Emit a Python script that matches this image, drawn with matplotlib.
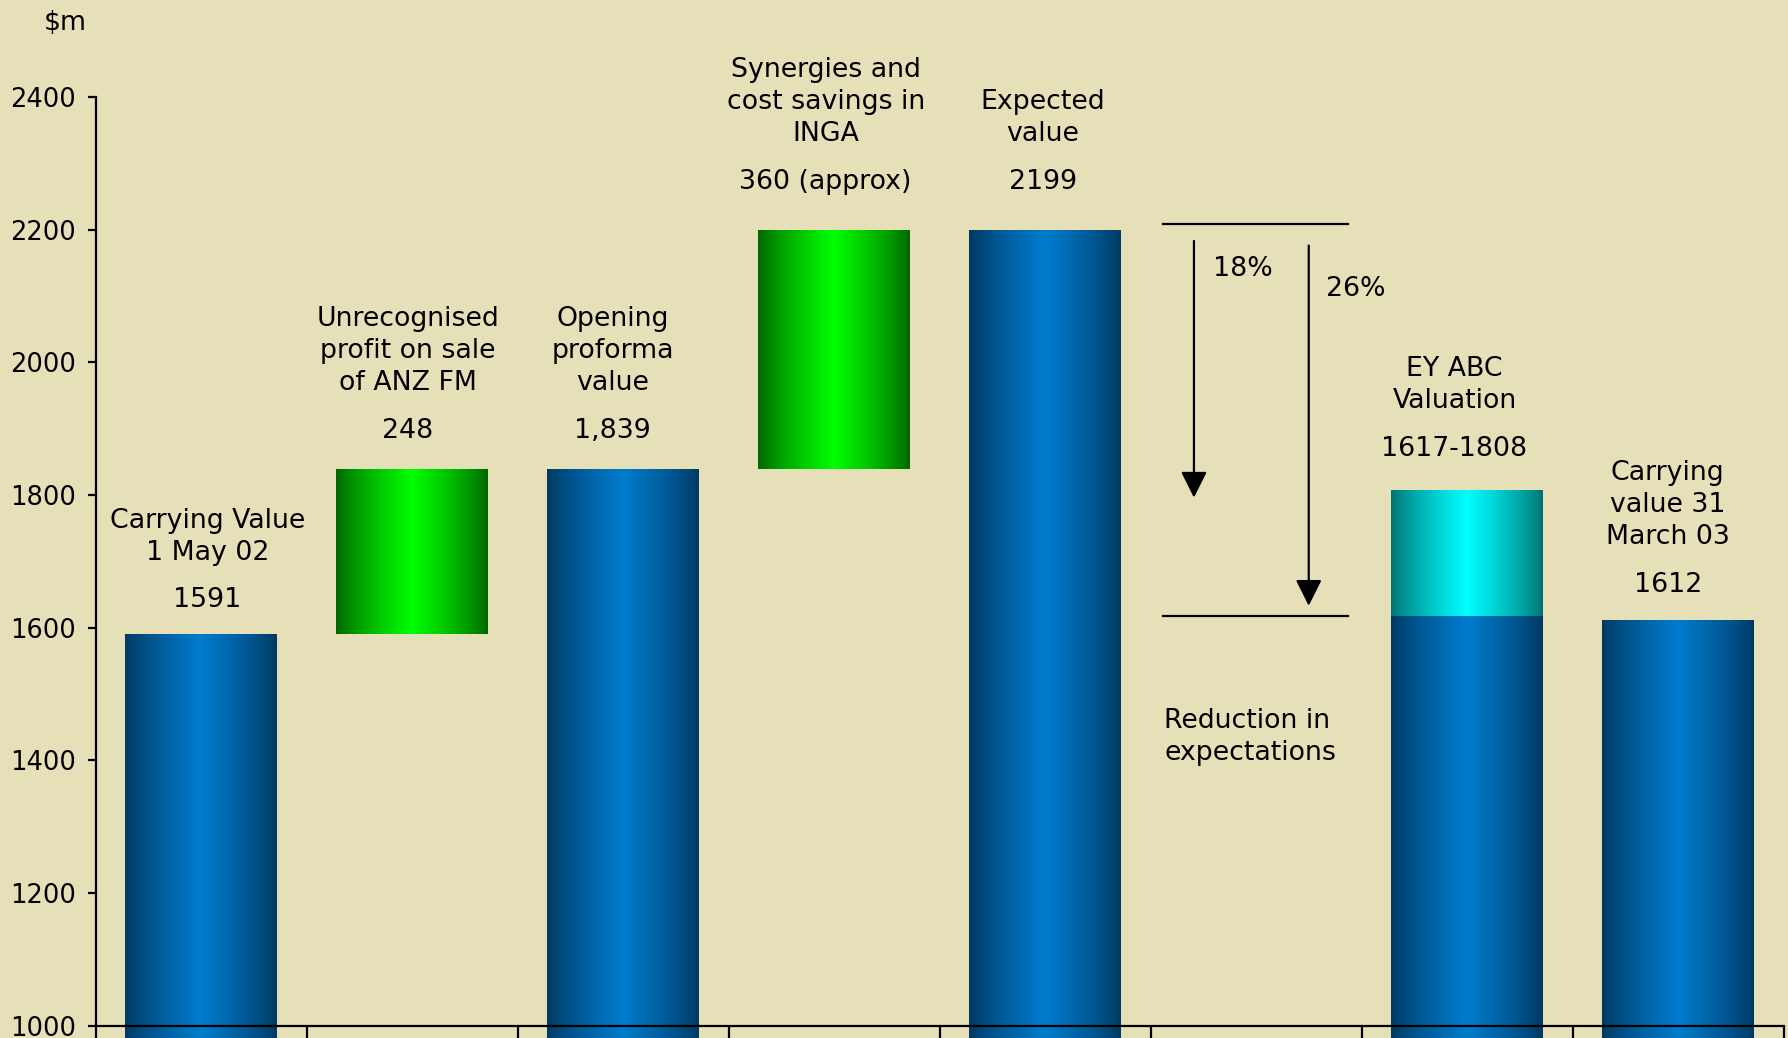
import numpy as np
import matplotlib
matplotlib.use("Agg")
import matplotlib.pyplot as plt

# ---- data -------------------------------------------------------------
stage_titles = [
    "Carrying Value\n1 May 02",
    "Unrecognised\nprofit on sale\nof ANZ FM",
    "Opening\nproforma\nvalue",
    "Synergies and\ncost savings in\nINGA",
    "Expected\nvalue",
    "",
    "EY ABC\nValuation",
    "Carrying\nvalue 31\nMarch 03",
]
value_labels = ["1591", "248", "1,839", "360 (approx)", "2199", "", "1617-1808", "1612"]

# totals drawn as blue columns (None = no column)
total_values = [1591, None, 1839, None, 2199, None, 1617, 1612]
# increments drawn as floating green columns on top of the previous total
step_values = [None, 248, None, 360, None, None, None, None]
# valuation range (low, high) for the EY ABC column
range_low, range_high = 1617, 1808
# reduction in expectations
reduction_top, reduction_bottom = 2208, 1618
reduction_pcts = ["18%", "26%"]

yticks = [1000, 1200, 1400, 1600, 1800, 2000, 2200, 2400]

# ---- styling ----------------------------------------------------------
BG = "#E5E0B8"
FS = 19.3
TICK_FS = 18.5
LS = 1.31
BLUE = ((0, 56, 96), (0, 124, 206))
GREEN = ((0, 100, 0), (0, 255, 0))
CYAN = ((0, 112, 112), (0, 255, 255))
BAR_W = 0.72

plt.rcParams["font.family"] = ["DejaVu Sans"]

fig = plt.figure(figsize=(17.88, 10.38), dpi=100, facecolor=BG)
ax = fig.add_axes([0.0535, 0.0118, 0.9441, 0.8948])
ax.set_facecolor(BG)


def gradient_fill(patch, cols):
    dark = np.array(cols[0]) / 255.0
    bright = np.array(cols[1]) / 255.0
    t = np.linspace(0, 1, 256)
    s = (1 - np.abs(2 * t - 1)) ** 0.8
    rgb = dark[None, :] + (bright - dark)[None, :] * s[:, None]
    x0, y0 = patch.get_xy()
    w, h = patch.get_width(), patch.get_height()
    im = ax.imshow(rgb[None, :, :], extent=[x0, x0 + w, y0, y0 + h],
                   aspect="auto", interpolation="bilinear", zorder=2)
    im.set_clip_path(patch)
    patch.set_facecolor("none")
    patch.set_edgecolor("none")


x = np.arange(len(stage_titles))
running = 0
tops = []
for i in x:
    if total_values[i] is not None:
        bars = ax.bar(i, total_values[i], width=BAR_W, bottom=0, zorder=2)
        gradient_fill(bars[0], BLUE)
        running = total_values[i]
        tops.append(total_values[i])
    elif step_values[i] is not None:
        bars = ax.bar(i, step_values[i], width=BAR_W, bottom=running, zorder=2)
        gradient_fill(bars[0], GREEN)
        running = running + step_values[i]
        tops.append(running)
    else:
        tops.append(None)

# valuation range on top of the EY ABC column
rng_idx = 6
bars = ax.bar(rng_idx, range_high - range_low, width=BAR_W, bottom=range_low, zorder=2)
gradient_fill(bars[0], CYAN)
tops[rng_idx] = range_high

# ---- labels -----------------------------------------------------------
label_dx = [0.03, -0.02, -0.05, -0.04, -0.01, 0.0, -0.06, -0.05]
label_gap = [50, 58, 58, 73, 73, 0, 62, 53]   # data units above column top
line_step = 28 / 0.5821 * 0.5                  # half line height in data units
for i in x:
    if not value_labels[i]:
        continue
    vy = tops[i] + label_gap[i]
    ax.text(i + label_dx[i], vy, value_labels[i], ha="center", va="center",
            fontsize=FS, zorder=5)
    n = stage_titles[i].count("\n") + 1
    hy = vy + 72 + (n - 1) * line_step
    ax.text(i + label_dx[i], hy, stage_titles[i], ha="center", va="center",
            fontsize=FS, linespacing=LS, zorder=5, clip_on=False)

# ---- reduction in expectations ---------------------------------------
ax.plot([4.557, 5.435], [reduction_top, reduction_top], color="black", lw=1.6, zorder=3)
ax.plot([4.557, 5.435], [reduction_bottom, reduction_bottom], color="black", lw=1.6, zorder=3)
arrow_style = dict(arrowstyle="-|>,head_length=1.0,head_width=0.5", color="black",
                   lw=1.6, mutation_scale=16, shrinkA=0, shrinkB=0)
ax.annotate("", xy=(4.705, 1796), xytext=(4.705, 2183), arrowprops=arrow_style, zorder=4)
ax.annotate("", xy=(5.249, 1633), xytext=(5.249, 2176), arrowprops=arrow_style, zorder=4)
ax.text(4.795, 2140, reduction_pcts[0], ha="left", va="center", fontsize=FS)
ax.text(5.33, 2110, reduction_pcts[1], ha="left", va="center", fontsize=FS)
ax.text(4.565, 1435, "Reduction in\nexpectations", ha="left", va="center",
        fontsize=FS, linespacing=LS)

ax.text(-0.645, 2512, "$m", ha="center", va="center", fontsize=FS, clip_on=False)

# ---- axes -------------------------------------------------------------
ax.set_xlim(-0.5, len(stage_titles) - 0.5)
ax.set_ylim(1000, 2400)
ax.set_yticks(yticks)
ax.set_yticklabels([str(v) for v in yticks], fontsize=TICK_FS)
ax.set_xticks(np.arange(-0.5, len(stage_titles), 1.0))
ax.set_xticklabels([])
ax.tick_params(axis="y", direction="out", length=6, width=1.6, pad=8)
ax.tick_params(axis="x", direction="out", length=15, width=1.6)
for side in ("top", "right"):
    ax.spines[side].set_visible(False)
for side in ("left", "bottom"):
    ax.spines[side].set_linewidth(1.6)
    ax.spines[side].set_zorder(6)

fig.savefig("out.png", dpi=100, facecolor=BG)
